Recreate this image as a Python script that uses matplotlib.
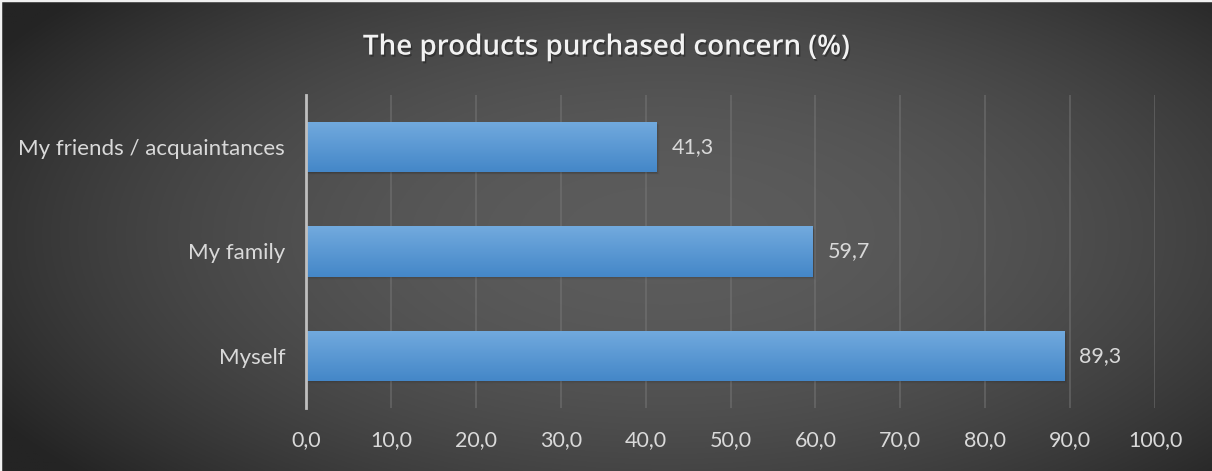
import numpy as np
import matplotlib
matplotlib.use("Agg")
import matplotlib.pyplot as plt
import matplotlib.patheffects as pe
from matplotlib.patches import Rectangle
from matplotlib.lines import Line2D

categories = ["Myself", "My family", "My friends / acquaintances"]
values = [89.3, 59.7, 41.3]
ticks = [0, 10, 20, 30, 40, 50, 60, 70, 80, 90, 100]

plt.rcParams['font.family'] = ['Lato', 'DejaVu Sans']

fig = plt.figure(figsize=(12.12, 4.71), dpi=100)

# background radial gradient
bg = fig.add_axes([0, 0, 1, 1], zorder=-10)
yy, xx = np.mgrid[0:1:300j, 0:1:600j]
r2 = ((xx - 0.55) / 0.62) ** 2 + ((yy - 0.5) / 0.75) ** 2
shade = np.clip(92 - 52 * r2, 36, 92) / 255.0
bg.imshow(np.dstack([shade, shade, shade]), aspect='auto', extent=[0, 1, 0, 1])
bg.set_axis_off()
fig.lines.append(Line2D([0, 0, 1], [0, 1, 1], transform=fig.transFigure,
                        color='#f0f0f0', linewidth=2.5))

ax = fig.add_axes([0.2525, 0.1338, 0.7005, 0.6645])
ax.patch.set_alpha(0)
ypos = np.arange(len(categories))
bars = ax.barh(ypos, values, height=0.48, color='#5b9bd5', zorder=3)

# gradient fill + soft shadow for each bar
grad = np.linspace(0, 1, 100).reshape(-1, 1)
top = np.array([0x72, 0xaa, 0xde]) / 255
bot = np.array([0x44, 0x87, 0xc8]) / 255
img = (bot + (top - bot) * grad[:, :, None] * np.ones((1, 2, 1)))
for b in bars:
    x0, y0, w, h = b.get_x(), b.get_y(), b.get_width(), b.get_height()
    im = ax.imshow(img, extent=[x0, x0 + w, y0, y0 + h], aspect='auto',
                   origin='lower', zorder=4)
    im.set_clip_path(b)
    for k, a in enumerate([0.08, 0.06, 0.04, 0.02]):
        ax.add_patch(Rectangle((x0 + 0.08 + 0.1 * k, y0 - 0.006 - 0.008 * k), w, h,
                               color='black', alpha=a, zorder=2, linewidth=0))

for yv, v in zip(ypos, values):
    ax.annotate(f"{v:.1f}".replace('.', ','), (v, yv), xytext=(11, 0),
                textcoords='offset points', va='center', ha='left',
                color='#d9d9d9', fontsize=15.5)

ax.set_xlim(0, 100)
ax.set_ylim(-0.5, 2.5)
ax.set_xticks(ticks)
ax.set_xticklabels([f"{t:.1f}".replace('.', ',') for t in ticks])
ax.set_yticks(ypos)
ax.set_yticklabels(categories)
ax.tick_params(axis='x', length=0, pad=16, colors='#d9d9d9', labelsize=15.5)
ax.tick_params(axis='y', length=0, pad=15, colors='#d9d9d9', labelsize=16)
ax.grid(axis='x', color='#7a7a7a', alpha=0.55, linewidth=1.2, zorder=0)
ax.set_axisbelow(True)
for s in ['top', 'right', 'bottom']:
    ax.spines[s].set_visible(False)
ax.spines['left'].set_color('#bfbfbf')
ax.spines['left'].set_linewidth(2)
ax.spines['left'].set_zorder(5)

fig.text(0.5, 0.90, "The products purchased concern (%)", ha='center', va='center',
         color='#f2f2f2', fontsize=20, fontweight='semibold', family='Open Sans',
         path_effects=[pe.withSimplePatchShadow(offset=(1, -1.5), shadow_rgbFace='black', alpha=0.3)])

fig.savefig("out.png", dpi=100)
